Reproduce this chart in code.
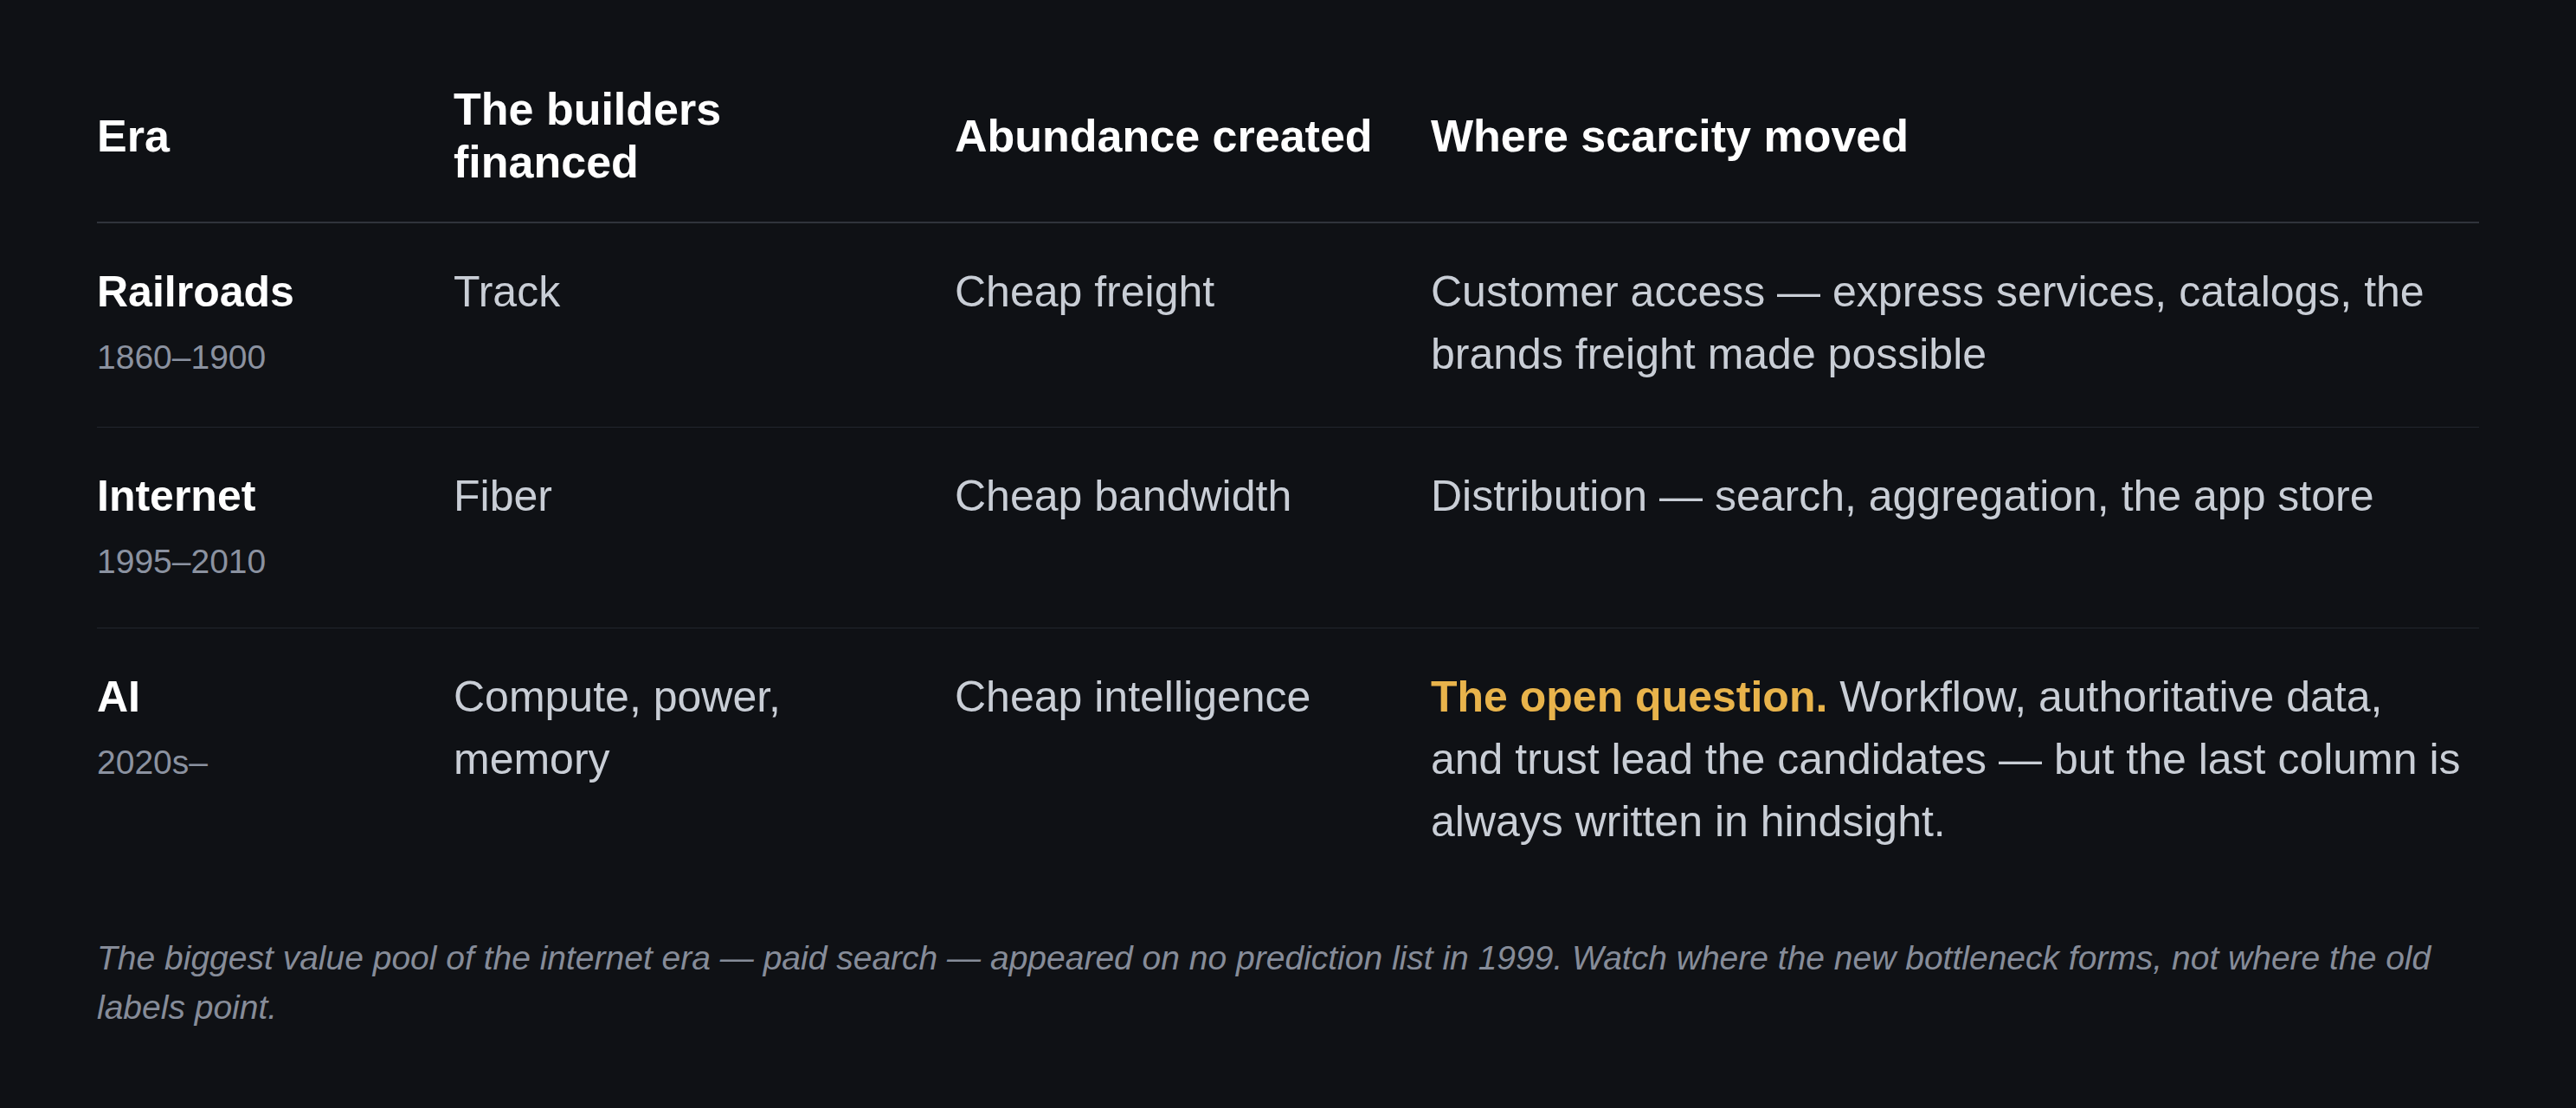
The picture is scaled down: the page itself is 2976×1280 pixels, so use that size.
<!DOCTYPE html>
<html><head><meta charset="utf-8">
<script src="https://cdn.jsdelivr.net/npm/chart.js@4"></script>
<style>
html,body{margin:0;padding:0;background:#0f1115;width:2976px;height:1280px;overflow:hidden;font-family:"Liberation Sans",Arial,sans-serif;}
#wrap{position:absolute;left:112px;top:58px;width:2752px;}
table{border-collapse:collapse;table-layout:fixed;width:2752px;}
th{color:#ffffff;font-weight:bold;font-size:52px;line-height:61px;text-align:left;vertical-align:middle;padding:38px 40px 38px 0;border-bottom:2px solid #30343b;height:122px;}
td{color:#c9ced6;font-size:50px;line-height:72px;vertical-align:top;padding:43px 40px 48px 0;border-bottom:1px solid #22262d;}
tr:last-child td{border-bottom:none;}
td.era b{color:#fff;display:block;}
td.era span{display:block;color:#8b92a0;font-size:39px;line-height:56px;margin-top:12px;}
.hl{color:#e8b34b;font-weight:bold;}
#foot{margin-top:45px;color:#868c99;font-style:italic;font-size:39px;line-height:57px;}
</style></head><body>
<div id="wrap"><table id="t"><colgroup><col style="width:412px"><col style="width:579px"><col style="width:550px"><col style="width:1211px"></colgroup><thead><tr id="h"></tr></thead><tbody id="b"></tbody></table><div id="foot"></div></div>
<script>
const headers=["Era","The builders financed","Abundance created","Where scarcity moved"];
const eras=["Railroads","Internet","AI"];
const years=["1860–1900","1995–2010","2020s–"];
const builders=["Track","Fiber","Compute, power, memory"];
const abundance=["Cheap freight","Cheap bandwidth","Cheap intelligence"];
const scarcityLead=["","","The open question."];
const scarcity=["Customer access — express services, catalogs, the brands freight made possible","Distribution — search, aggregation, the app store","Workflow, authoritative data, and trust lead the candidates — but the last column is always written in hindsight."];
const footnote="The biggest value pool of the internet era — paid search — appeared on no prediction list in 1999. Watch where the new bottleneck forms, not where the old labels point.";
const h=document.getElementById('h');
headers.forEach((x,i)=>{const th=document.createElement('th');th.textContent=x;if(i==1)th.style.paddingRight='150px';h.appendChild(th);});
const b=document.getElementById('b');
eras.forEach((e,i)=>{
 const tr=document.createElement('tr');
 const c0=document.createElement('td');c0.className='era';
 const bb=document.createElement('b');bb.textContent=e;const sp=document.createElement('span');sp.textContent=years[i];c0.append(bb,sp);
 const c1=document.createElement('td');c1.textContent=builders[i];c1.style.paddingRight='150px';
 const c2=document.createElement('td');c2.textContent=abundance[i];
 const c3=document.createElement('td');c3.style.paddingRight='20px';
 if(scarcityLead[i]){const s=document.createElement('span');s.className='hl';s.textContent=scarcityLead[i];c3.append(s,' ');}
 c3.append(scarcity[i]);
 tr.append(c0,c1,c2,c3);b.appendChild(tr);
});
document.getElementById('foot').textContent=footnote;
</script>
</body></html>
